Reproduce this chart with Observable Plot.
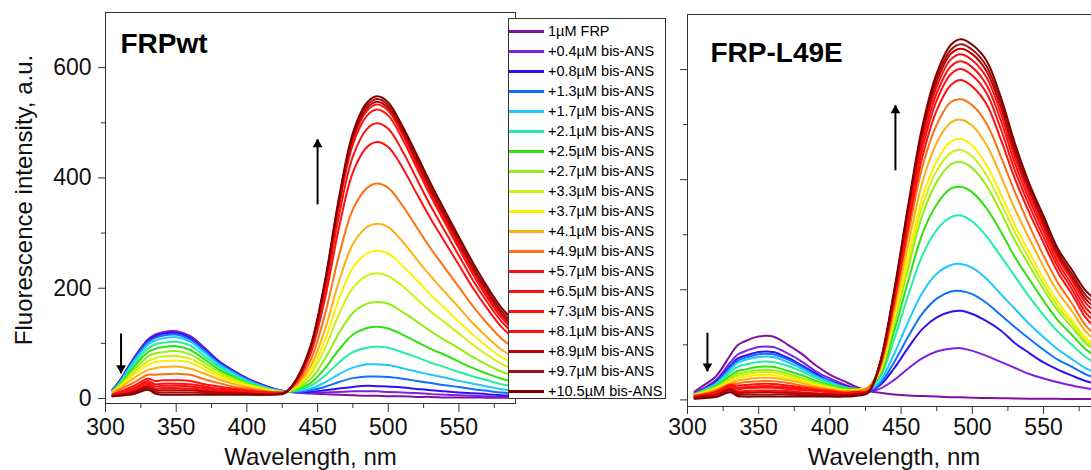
<!DOCTYPE html>
<html>
<head>
<meta charset="utf-8">
<script src="https://cdn.jsdelivr.net/npm/d3@7"></script>
<script src="https://cdn.jsdelivr.net/npm/@observablehq/plot@0.6"></script>
<style>
  html, body { margin: 0; padding: 0; background: #fff; width: 1091px; height: 470px; overflow: hidden; }
  #wrap { position: relative; width: 1091px; height: 470px; overflow: hidden; }
  .panel { position: absolute; top: 0; height: 470px; }
  .panel svg { max-width: none !important; display: block; }
  #legend { position: absolute; left: 508px; top: 18px; width: 156px; height: 379px; border: 1px solid #333; background: #fff;
            font-family: "Liberation Sans", Arial, sans-serif; font-size: 14.5px; color: #000; box-sizing: content-box; }
  .row { position: absolute; left: 0; height: 20px; display: flex; align-items: center; white-space: nowrap; }
  .sw { width: 35px; height: 3px; margin-right: 4px; }
</style>
</head>
<body>
<div id="wrap">
  <div id="left" class="panel" style="left:0px; width:520px"></div>
  <div id="right" class="panel" style="left:600px; width:510px"></div>
  <div id="legend"></div>
</div>
<script>
// ---------- data ----------
const wavelengths = [305,310,320,330,335,340,350,360,370,380,390,400,410,420,427,435,445,455,465,475,485,492,500,510,520,530,540,550,560,570,580,590];

const seriesLabels = ["1µM FRP","+0.4µM bis-ANS","+0.8µM bis-ANS","+1.3µM bis-ANS","+1.7µM bis-ANS","+2.1µM bis-ANS","+2.5µM bis-ANS","+2.7µM bis-ANS","+3.3µM bis-ANS","+3.7µM bis-ANS","+4.1µM bis-ANS","+4.9µM bis-ANS","+5.7µM bis-ANS","+6.5µM bis-ANS","+7.3µM bis-ANS","+8.1µM bis-ANS","+8.9µM bis-ANS","+9.7µM bis-ANS","+10.5µM bis-ANS"];

const seriesColors = ["#8010a0","#8020e0","#3010f0","#1070ff","#20c8ff","#20f0a0","#30e010","#90f010","#d0f010","#fff000","#ffb010","#ff7010","#ff1010","#ff1010","#ff1010","#ff1010","#c00000","#a01010","#800000"];

// FRPwt panel, one row per series, values at `wavelengths`
const wtIntensity = [
 [16,32,73,107,116,120,122,113,92,68,51,37,26,17,13,11,9,8,7,6,5,5,4,4,3,3,2,2,2,1.5,1.3,1.2],
 [16,31,73,106,115,119,121,112,91,68,51,36,25,17,13,11,10,11,12,13,13,13,12,11,10,8,7,6,5,4,3.5,3],
 [15,31,71,105,113,117,119,110,89,67,50,36,25,17,13,12,12,15,18,21,23,22.5,22,20,17.5,15,13,11,9.5,8,6,5],
 [15,30,70,102,110,114,116,107,87,65,49,35,24,16,13,12,15,21,30,37,40,40,39,36,32,28,24,21,17,14,11,9.5],
 [14,29,67,98,105,109,111,103,83,62,47,33,23,16,13,14,18,29,44,56,62,62,61,55,49,43,38,32,27,22,17,14],
 [13,27,62,91,98,101,103,96,77,58,43,31,22,14,12,14,23,41,65,84,92,94,92,84,75,65,57,48,40,33,26,22],
 [12,25,57,84,90,93,95,88,71,53,40,28,20,13,11,17,28,54,88,116,128,130,127,116,103,90,79,67,55,45,36,30],
 [12,24,52,76,82,84,86,80,65,49,37,27,20,14,12,18,35,71,118,155,172,175,172,157,140,122,106,91,75,61,49,40],
 [12,22,47,68,73,76,77,72,59,44,34,25,19,13,12,20,44,90,152,201,223,227,222,204,181,158,138,118,97,79,63,52],
 [12,21,43,61,66,68,69,65,53,40,31,24,18,13,12,22,50,105,179,237,263,268,263,241,215,188,164,139,115,94,75,62],
 [12,19,37,52,55,57,58,54,45,35,27,21,16,12,12,24,58,123,211,280,311,317,311,285,253,222,193,165,136,111,89,73],
 [9,16,29,43,43,44,45,43,35,28,22,18,14,11,12,27,69,150,258,343,382,390,382,350,311,272,237,202,167,136,109,90],
 [7,12,23,36,32,33,33,32,26,22,18,15,12,11,12,30,81,178,308,410,456,465,456,419,372,326,284,242,200,163,130,107],
 [6,10,19,32,26,27,27,26,22,18,16,13,12,10,11,32,86,190,330,439,489,499,489,449,399,349,304,259,214,175,140,115],
 [6,9,17,28,22,23,23,22,19,16,14,12,11,10,11,33,90,200,346,461,513,524,513,471,419,367,319,272,225,183,147,120],
 [5,8,14,25,18,19,19,18,16,13,12,10,9,9,11,33,91,203,352,469,522,533,522,479,426,373,325,277,229,186,149,122],
 [5,7,12,22,15,15,15,15,13,11,10,9,8,8,11,33,92,205,355,473,527,538,527,485,432,378,330,283,235,192,154,127],
 [4,6,10,19,12,11,11,11,10,9,8,8,7,8,11,34,93,207,358,477,532,543,532,490,437,383,335,288,240,197,159,132],
 [4,5,8,16,9,7,7,7,7,7,7,7,7,7,10,35,95,210,362,482,537,548,537,494,443,390,341,293,246,203,165,138]
];

// FRP-L49E panel
const l49eIntensity = [
 [15,24,43,81,99,106,115,115,101,84,63,46,34,22,16,13,10,8,7,6,5,4.6,4,3.5,3,2.6,2.3,2.1,1.9,1.6,1.5,1.4],
 [13,19,36,68,82,88,96,96,85,70,52,39,28,19,16,20,36,57,76,88,93,94,89,80,69,58,47,39,32,26,21,18],
 [11,18,33,62,75,80,87,87,77,63,48,35,26,18,16,26,57,95,129,150,160,162,156,143,126,103,85,68,55,44,34,28],
 [11,17,31,59,71,76,83,83,74,61,45,34,24,18,17,29,68,115,157,184,197,198,192,176,154,132,111,91,73,60,46,38],
 [10,16,29,55,67,72,78,78,69,57,43,32,23,17,17,33,83,142,195,229,245,247,240,220,192,165,138,114,92,74,57,47],
 [11,16,28,50,60,64,69,69,62,52,40,30,23,20,21,40,109,190,263,309,332,335,324,297,261,224,187,154,124,100,77,64],
 [10,15,25,44,52,55,60,60,53,45,35,27,21,19,22,45,124,216,302,355,384,387,377,348,306,259,219,180,145,118,91,76],
 [9,14,23,39,47,50,54,54,48,40,32,25,19,19,23,48,138,240,336,396,428,432,421,389,341,289,244,201,162,132,102,85],
 [9,13,22,37,43,46,50,50,44,37,29,23,18,18,23,50,144,252,353,416,449,454,442,408,358,304,256,211,170,139,107,89],
 [9,12,20,33,39,42,45,45,40,34,27,22,17,18,23,52,150,262,368,434,469,474,462,426,374,317,268,220,178,145,112,93],
 [8,11,19,30,35,37,40,40,36,31,24,20,16,17,23,55,160,282,396,467,504,509,498,463,407,346,293,242,196,161,123,102],
 [8,10,17,29,30,32,34,34,31,26,22,18,15,16,22,58,171,302,424,500,541,546,535,502,442,377,317,262,213,175,134,112],
 [7,9,15,27,26,27,29,29,26,23,19,16,13,14,16,60,176,315,442,526,572,581,569,537,473,401,340,285,232,192,148,125],
 [6,8,14,26,22,23,25,25,23,20,17,14,12,14,16,62,181,325,457,544,592,601,589,557,492,416,353,296,242,201,157,135],
 [6,8,13,25,20,21,22,22,20,18,16,14,12,14,16,63,186,333,468,557,606,615,604,572,508,429,364,306,250,209,166,143],
 [5,7,11,22,16,16,17,17,16,14,12,11,10,12,15,63,189,340,478,569,619,628,617,586,521,440,373,314,258,217,175,153],
 [4,6,9,20,13,13,14,14,13,12,11,10,9,11,15,64,192,345,485,578,629,638,628,597,532,449,381,321,264,223,182,161],
 [3,5,7,17,10,10,10,10,10,9,9,8,8,10,14,65,194,349,491,585,636,646,636,606,541,457,386,328,269,229,189,169],
 [2,3,5,14,7,6,6,6,6,6,6,6,6,8,13,66,197,354,498,593,645,655,645,616,550,465,393,334,275,236,197,177]
];

const xMajorTicks = [300,350,400,450,500,550];
const xMinorTicks = [325,375,425,475,525,575];
const yMajorTicks = [0,200,400,600];
const yMinorTicks = [100,300,500];
const xLabel = "Wavelength, nm";
const yLabel = "Fluorescence intensity, a.u.";
const panelTitles = ["FRPwt", "FRP-L49E"];
// arrow annotations (data units: nm, a.u.)
const wtArrows = [{x: 450, y1: 352, y2: 470}, {x: 311, y1: 118, y2: 46}];
const l49eArrows = [{x: 446, y1: 417, y2: 535}, {x: 314, y1: 122, y2: 52}];

// ---------- build ----------
function toRows(matrix) {
  const rows = [];
  matrix.forEach((vals, s) => vals.forEach((v, i) => rows.push({w: wavelengths[i], v, s, c: seriesColors[s]})));
  return rows;
}

const FONT = "'Liberation Sans', Arial, Helvetica, sans-serif";

function panel({matrix, title, arrows, width, mL, mR, mT, mB, yMin, showY, tickX, padX, titleDx, titleDy, labelDy}) {
  const marks = [
    Plot.line(toRows(matrix), {x: "w", y: "v", z: "s", stroke: "c", strokeWidth: 2, curve: "catmull-rom"}),
    Plot.frame({stroke: "#333", strokeWidth: 1}),
    Plot.axisX({ticks: xMajorTicks, tickSize: tickX, tickPadding: padX, tickFormat: d => String(d), label: null, fontSize: 23, stroke: "#333"}),
    Plot.axisX({ticks: xMinorTicks, tickSize: 5, tickFormat: () => "", label: null, stroke: "#333"}),
    Plot.axisY({ticks: yMajorTicks, tickSize: 7, tickPadding: 7, tickFormat: showY ? (d => String(d)) : (() => ""), label: null, fontSize: 23, stroke: "#333"}),
    Plot.axisY({ticks: yMinorTicks, tickSize: 4, tickFormat: () => "", label: null, stroke: "#333"}),
    Plot.text([xLabel], {text: d => d, frameAnchor: "bottom", dy: labelDy, lineAnchor: "bottom", fontSize: 24, fill: "#111"}),
    Plot.text([title], {text: d => d, frameAnchor: "top-left", dx: titleDx, dy: titleDy, textAnchor: "start", lineAnchor: "top", fontSize: 28, fontWeight: "bold", fill: "#000"}),
    Plot.link(arrows, {x1: "x", x2: "x", y1: "y1", y2: "y2", stroke: "#000", strokeWidth: 2}),
    Plot.dot(arrows.filter(a => a.y2 > a.y1), {x: "x", y: "y2", symbol: "triangle", r: 3.6, fill: "#000", stroke: "none", dy: 5}),
    Plot.dot(arrows.filter(a => a.y2 < a.y1), {x: "x", y: "y2", symbol: "triangle", r: 3.6, fill: "#000", stroke: "none", rotate: 180, dy: -5})
  ];
  if (showY) {
    marks.push(Plot.text([yLabel], {text: d => d, frameAnchor: "left", dx: -81, dy: -8, rotate: -90, textAnchor: "middle", lineAnchor: "middle", fontSize: 24, fill: "#111"}));
  }
  return Plot.plot({
    width, height: 470,
    marginLeft: mL, marginRight: mR, marginTop: mT, marginBottom: mB,
    x: {domain: [300, 590]},
    y: {domain: [yMin, 700]},
    color: {type: "identity"},
    style: {fontFamily: FONT, background: "transparent", color: "#111", overflow: "visible", maxWidth: "none"},
    marks
  });
}

document.getElementById("left").appendChild(panel({
  matrix: wtIntensity, title: panelTitles[0], arrows: wtArrows,
  width: 520, mL: 105, mR: 5, mT: 12, mB: 67, yMin: -9, showY: true,
  tickX: 9, padX: 6, titleDx: 15, titleDy: 21, labelDy: 61
}));

document.getElementById("right").appendChild(panel({
  matrix: l49eIntensity, title: panelTitles[1], arrows: l49eArrows,
  width: 510, mL: 87, mR: 10, mT: 14, mB: 64, yMin: -12, showY: false,
  tickX: 8, padX: 4, titleDx: 23, titleDy: 28, labelDy: 58
}));

// legend
const legend = document.getElementById("legend");
seriesLabels.forEach((lab, i) => {
  const row = document.createElement("div");
  row.className = "row";
  row.style.top = (2 + 20 * i) + "px";
  const sw = document.createElement("div");
  sw.className = "sw";
  sw.style.background = seriesColors[i];
  const tx = document.createElement("span");
  tx.textContent = lab;
  row.appendChild(sw);
  row.appendChild(tx);
  legend.appendChild(row);
});
</script>
</body>
</html>
